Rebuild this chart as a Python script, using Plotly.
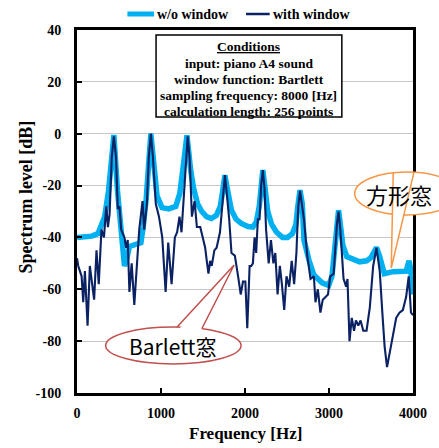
import math
import plotly.graph_objects as go

# ---- spectrum data: frequency [Hz] and spectrum level [dB] ----
# rectangular (no) window
rect_freq = [0, 94, 176, 250, 291, 329, 376, 439, 482, 506,
             545, 565, 588, 624, 682, 761, 788, 824, 879, 929,
             953, 1012, 1094, 1176, 1224, 1259, 1309, 1353, 1388, 1435,
             1486, 1541, 1600, 1659, 1706, 1735, 1761, 1788, 1839, 1894,
             1956, 2035, 2094, 2135, 2170, 2194, 2212, 2235, 2271, 2318,
             2376, 2447, 2506, 2565, 2606, 2629, 2655, 2682, 2702, 2761,
             2820, 2918, 2996, 3035, 3071, 3094, 3114, 3135, 3165, 3212,
             3282, 3365, 3447, 3494, 3529, 3565, 3600, 3635, 3659, 3761,
             3859, 3918, 3953, 3971, 4000]
rect_db = [-40, -40, -39.5, -38.5, -35, -32, -22, -0.5, -22, -33,
           -44, -51, -49, -43.5, -43, -42, -36, -25, 0, -20,
           -24, -28.5, -29, -28, -23, -14, -0.6, -14, -21, -27,
           -30, -32, -32.7, -31.5, -28, -22, -16, -21, -29.5, -33,
           -34.6, -35.8, -36, -34, -28, -20, -14, -20, -30, -35,
           -38, -40, -40, -38.5, -35, -28, -21.8, -27, -41, -48.7,
           -54.5, -57.5, -58.5, -55, -43, -34, -29.5, -35, -43, -47.4,
           -48.5, -49.4, -49, -48, -46, -43.9, -47, -52, -54, -53.2,
           -53, -53, -49, -52, -62]

# Bartlett window
bartlett_freq = [0, 15, 55, 74, 94, 126, 153, 180, 204, 232, 259, 291, 321, 349, 368, 388,
                 414, 439, 464, 486, 506, 526, 565, 585, 604, 624, 651, 682, 714, 741, 780, 800, 832,
                 855, 879, 904, 938, 976, 996, 1015, 1055, 1086, 1126, 1165, 1192, 1220, 1244, 1271,
                 1294, 1318, 1342, 1368, 1400, 1427, 1467, 1506, 1526, 1545, 1565, 1585, 1604, 1635, 1662, 1702, 1729,
                 1745, 1761, 1780, 1812, 1839, 1879, 1918, 1949, 1976, 2004, 2027, 2055, 2074, 2094, 2114, 2133, 2153, 2173,
                 2192, 2212, 2232, 2251, 2282, 2309, 2338, 2361, 2388, 2415, 2439, 2467, 2494, 2526, 2556, 2585, 2612,
                 2634, 2655, 2676, 2702, 2741, 2780, 2820, 2839, 2867, 2898, 2926, 2957, 2988, 3015, 3055,
                 3094, 3114, 3135, 3173, 3204, 3220, 3244, 3271, 3298, 3321, 3349, 3376, 3408, 3447, 3486, 3526,
                 3565, 3604, 3635, 3662, 3691, 3721, 3761, 3800, 3839, 3879, 3918, 3949, 3976, 4000]
bartlett_db = [-48, -51, -55, -65, -53, -74, -51, -59, -64, -45, -58, -37, -40, -28, -36, -31,
               -9, -1, -9, -29, -28, -37, -40, -44, -41, -61, -50, -66, -49, -37, -26, -37, -27,
               -9, 0, -9, -27, -32, -36, -40, -61, -42, -58, -40, -38, -32, -38, -24,
               -9, -1, -10, -32, -26, -36, -36, -42, -44, -49, -54, -49, -51, -45, -44, -38, -28,
               -21, -16, -22, -33, -46, -47, -55, -62, -57, -57, -75, -51, -51, -50, -40, -46, -33, -33,
               -20, -14, -21, -37, -50, -41, -50, -46, -62, -51, -58, -68, -55, -59, -49, -58, -46,
               -28, -22, -28, -33, -47, -56, -55, -65, -60, -69, -64, -63, -62, -55, -54,
               -35, -30, -37, -56, -59, -56, -80, -71, -76, -72, -74, -72, -76, -76, -67, -51,
               -44, -53, -69, -82, -90, -85, -77, -71, -69, -68, -63, -55, -69, -70]

x_ticks = [0, 1000, 2000, 3000, 4000]
y_ticks = [-100, -80, -60, -40, -20, 0, 20, 40]

series_names = ["w/o window", "with window"]
conditions_title = "Conditions"
conditions_lines = ["input: piano A4 sound",
                    "window function: Bartlett",
                    "sampling frequency: 8000 [Hz]",
                    "calculation length: 256 points"]
callout_rect = "方形窓"
callout_bartlett = "Barlett窓"

# ---- page geometry (pixels) ----
W, H = 439, 448
ML, MR, MT, MB = 77, 22, 30, 55
PW, PH = W - ML - MR, H - MT - MB


def px(x):
    return (x - ML) / PW


def py(y):
    return (H - MB - y) / PH


LIGHT = "#00B0F0"
DARK = "#0A2263"
SERIF = "Liberation Serif, Times New Roman, serif"
SANS = "Noto Sans CJK JP, Noto Sans, sans-serif"

fig = go.Figure()
fig.add_trace(go.Scatter(x=rect_freq, y=rect_db, mode="lines", name=series_names[0],
                         line=dict(color=LIGHT, width=5.5), showlegend=False))
fig.add_trace(go.Scatter(x=bartlett_freq, y=bartlett_db, mode="lines", name=series_names[1],
                         line=dict(color=DARK, width=2.1), showlegend=False))

tickfont = dict(family=SERIF, size=14, color="black", weight="bold")
fig.update_xaxes(range=[0, 4000], tickvals=x_ticks, ticktext=[str(v) for v in x_ticks],
                 ticks="inside", ticklen=5, tickwidth=2,
                 tickcolor="black", showline=True, linecolor="black", linewidth=3, mirror=True,
                 showgrid=False, zeroline=False, tickfont=tickfont, ticklabelstandoff=5)
fig.update_yaxes(range=[-100, 40], tickvals=y_ticks, ticktext=[str(v) for v in y_ticks],
                 ticks="inside", ticklen=5, tickwidth=2,
                 tickcolor="black", showline=True, linecolor="black", linewidth=3, mirror=True,
                 showgrid=True, gridcolor="#c8c8c8", gridwidth=1, zeroline=False,
                 tickfont=tickfont, ticklabelstandoff=10)

shapes = []
annotations = []


def label(x, y, text, font, **kw):
    d = dict(x=px(x), y=py(y), xref="paper", yref="paper", text=text, showarrow=False,
             xanchor="center", yanchor="middle", font=font)
    d.update(kw)
    annotations.append(d)


# axis titles
label(247, 433, "Frequency [Hz]", dict(family=SERIF, size=17, color="black", weight="bold"))
label(25, 197, "Spectrum level [dB]", dict(family=SERIF, size=18, color="black", weight="bold"),
      textangle=-90)

# legend
legend_items = [(series_names[0], LIGHT, 5, 128, 155), (series_names[1], DARK, 2.5, 248, 272)]
for name, color, width, x0, x1 in legend_items:
    shapes.append(dict(type="line", xref="paper", yref="paper", x0=px(x0), x1=px(x1),
                       y0=py(14), y1=py(14), line=dict(color=color, width=width)))
    label(x1 + 1, 14, name, dict(family=SERIF, size=14, color="black", weight="bold"),
          xanchor="left")

# conditions box
shapes.append(dict(type="rect", xref="paper", yref="paper", x0=px(157), x1=px(345),
                   y0=py(117), y1=py(35), fillcolor="white", line=dict(color="black", width=1.5),
                   layer="above"))
cond_font = dict(family=SERIF, size=13.5, color="black", weight="bold")
label(251, 46, "<u>" + conditions_title + "</u>", cond_font)
for i, line in enumerate(conditions_lines):
    label(251, 63 + 16.3 * i, line, cond_font)


def callout(cx, cy, a, b, base_l, base_r, tip, color, text, size, text_x=None):
    def edge(x):
        dx = (x - cx) / a
        return cy - b * math.sqrt(max(0.0, 1 - dx * dx))

    bl = (base_l, edge(base_l))
    br = (base_r, edge(base_r))
    shapes.append(dict(type="circle", xref="paper", yref="paper", x0=px(cx - a), x1=px(cx + a),
                       y0=py(cy + b), y1=py(cy - b), fillcolor="white",
                       line=dict(color=color, width=1.5), layer="above"))
    fill_path = "M{},{} L{},{} L{},{} Z".format(
        px(bl[0] + 1), py(bl[1] + 3), px(tip[0]), py(tip[1]), px(br[0] - 1), py(br[1] + 3))
    shapes.append(dict(type="path", xref="paper", yref="paper", path=fill_path,
                       fillcolor="white", line=dict(width=0), layer="above"))
    edge_path = "M{},{} L{},{} L{},{}".format(px(bl[0]), py(bl[1]), px(tip[0]), py(tip[1]),
                                              px(br[0]), py(br[1]))
    shapes.append(dict(type="path", xref="paper", yref="paper", path=edge_path,
                       line=dict(color=color, width=1.5), layer="above"))
    label(cx if text_x is None else text_x, cy, text, dict(family=SANS, size=size, color="black"))


callout(174.5, 345.5, 68.5, 18.5, 178.3, 203.3, (236, 265), "#C0504D", callout_bartlett, 21)
callout(411, 193.5, 53, 21.5, 397, 418, (395, 268), "#F79646", callout_rect, 22, text_x=403)

fig.update_layout(width=W, height=H, margin=dict(l=ML, r=MR, t=MT, b=MB),
                  paper_bgcolor="white", plot_bgcolor="white",
                  shapes=shapes, annotations=annotations)

fig.write_html("out.html")
